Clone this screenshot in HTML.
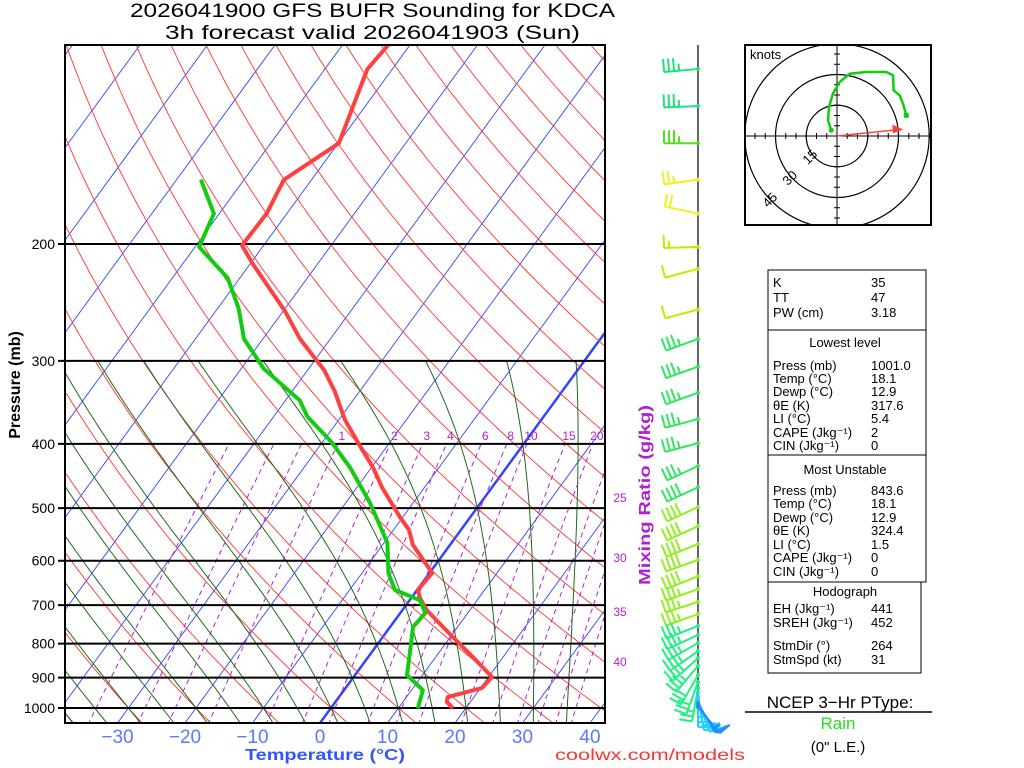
<!DOCTYPE html>
<html><head><meta charset="utf-8"><style>
html,body{margin:0;padding:0;background:#fff;}
svg{display:block;font-family:"Liberation Sans",sans-serif;}
</style></head><body>
<svg id="c" width="1024" height="768" viewBox="0 0 1024 768">
<defs><clipPath id="plotClip"><rect x="65" y="45" width="540" height="678"/></clipPath>
<clipPath id="hodoClip"><rect x="745" y="45" width="186" height="180"/></clipPath></defs>
<g id="bg" clip-path="url(#plotClip)"></g>
<g id="isobars"></g>
<g id="profiles" clip-path="url(#plotClip)"></g>
<rect x="65" y="45" width="540" height="678" fill="none" stroke="#000" stroke-width="2"/>
<g id="labels"></g>
<g id="barbs"></g>
<g id="hodo"></g>
<text x="130" y="17" font-size="19" textLength="485" lengthAdjust="spacingAndGlyphs">2026041900 GFS BUFR Sounding for KDCA</text>
<text x="165" y="39" font-size="19" textLength="415" lengthAdjust="spacingAndGlyphs">3h forecast valid 2026041903 (Sun)</text>
<text x="20" y="385" font-size="16" font-weight="bold" text-anchor="middle" transform="rotate(-90 20 385)">Pressure (mb)</text>
<text x="245" y="760" font-size="16" font-weight="bold" fill="#3355ff" textLength="160" lengthAdjust="spacingAndGlyphs">Temperature (°C)</text>
<text x="555" y="760" font-size="16" fill="#ff3333" textLength="190" lengthAdjust="spacingAndGlyphs">coolwx.com/models</text>
<text x="405" y="650" font-size="16" font-weight="bold" fill="#b020d0" textLength="180" lengthAdjust="spacingAndGlyphs" transform="rotate(-90 650 495) translate(155 -155)">Mixing Ratio (g/kg)</text>
<g font-size="13">
<rect x="768" y="270" width="158" height="60" fill="none" stroke="#000"/>
<rect x="768" y="330" width="158" height="125" fill="none" stroke="#000"/>
<rect x="768" y="455" width="158" height="127" fill="none" stroke="#000"/>
<rect x="768" y="582" width="153" height="91" fill="none" stroke="#000"/>
<g id="panelText"></g>
</g>
<text x="840" y="708" font-size="17" text-anchor="middle">NCEP 3−Hr PType:</text>
<line x1="745" y1="712" x2="932" y2="712" stroke="#000" stroke-width="1.5"/>
<text x="838" y="729" font-size="17" fill="#22dd22" text-anchor="middle">Rain</text>
<text x="838" y="752" font-size="15" text-anchor="middle">(0" L.E.)</text>
</svg>
<script>
// ---- data ----
const tempP = [100,109,141,160,180,201,214,253,278,310,334,368,404,434,466,516,539,568,626,664,683,712,782,838,898,933,963,979,1001];
const tempT = [-63.2,-63.7,-59.9,-64.1,-63.0,-63.2,-59.7,-49.6,-44.5,-37.5,-33.6,-29.1,-23.9,-19.8,-16.2,-10.4,-7.7,-5.5,0.4,0.1,1.3,3.6,10.4,15.5,20.5,20.2,16.1,16.5,18.1];
const dewP = [160,180,202,225,250,278,308,344,364,398,434,491,564,626,664,688,719,755,800,892,940,1001];
const dewT = [-76.4,-70.8,-69.4,-61.8,-56.9,-52.8,-46.7,-37.9,-35.0,-28.6,-23.2,-16.4,-9.5,-6.1,-3.3,1.5,3.7,3.4,4.9,7.7,11.7,12.9];
const isobarLevels = [200,300,400,500,600,700,800,900,1000];
const tempTicks = [-30,-20,-10,0,10,20,30,40];
const mixLabeled = [1,2,3,4,6,8,10,15,20];
const mixUnlabeled = [0.2,0.4,0.6];
const mixRight = [25,30,35,40];
const mixRightLabelP = [481,592,714,849];
const moistStarts = [-40,-35,-30,-25,-20,-15,-10,-5,0,5,10,15,20,25,30,35];
const windP = [109,124,141,160,180,202,218,251,278,306,335,367,399,432,465,498,532,566,598,633,662,692,722,752,776,798,821,841,864,892,914,933,949,962,973,983,990,997];
const windDir = [265,268,270,262,282,268,255,255,250,250,250,255,255,245,245,245,245,248,250,248,250,252,250,248,245,240,235,228,220,210,200,190,180,170,160,150,145,140];
const windSpd = [35,35,35,25,20,15,10,10,35,35,35,35,35,35,40,40,40,40,40,40,35,35,35,35,35,35,35,35,35,30,30,25,25,20,20,15,15,10];
const hodoU = [-2.8,-4.4,-3.9,-2.0,1.3,6.2,14.3,24.1,27.3,27.6,30.6,32.2,33.8];
const hodoV = [2.8,7.6,14.1,20.7,26.3,30.4,31.2,31.2,29.6,22.3,19.8,15.8,10.1];
const stormU = 30.8, stormV = 3.2;
const panelLabels = ["K","TT","PW (cm)","Press (mb)","Temp (°C)","Dewp (°C)","θE (K)","LI (°C)","CAPE (Jkg⁻¹)","CIN (Jkg⁻¹)","Press (mb)","Temp (°C)","Dewp (°C)","θE (K)","LI (°C)","CAPE (Jkg⁻¹)","CIN (Jkg⁻¹)","EH (Jkg⁻¹)","SREH (Jkg⁻¹)","StmDir (°)","StmSpd (kt)"];
const panelValues = ["35","47","3.18","1001.0","18.1","12.9","317.6","5.4","2","0","843.6","18.1","12.9","324.4","1.5","0","0","441","452","264","31"];

// ---- axes ----
const NS="http://www.w3.org/2000/svg";
function yP(p){return 708-288.3*Math.log(1000/p);}
function xT(T,p){return 320+6.75*T+0.73*(723-yP(p));}
function mk(tag,attrs,parent){const e=document.createElementNS(NS,tag);for(const k in attrs)e.setAttribute(k,attrs[k]);parent.appendChild(e);return e;}
const bg=document.getElementById('bg');
function poly(pts,style,parent){return mk('polyline',Object.assign({points:pts.map(q=>q[0].toFixed(1)+','+q[1].toFixed(1)).join(' '),fill:'none'},style),parent);}
const pSteps=[];for(let p=1060;p>=95;p-=5)pSteps.push(p);

for(let T=-170;T<=50;T+=10){
  const l=mk('line',{x1:xT(T,1060),y1:yP(1060),x2:xT(T,95),y2:yP(95),stroke:'#3344ff','stroke-width':T===0?2.5:0.9},bg);
  
  
}
for(let th=-40;th<=260;th+=10){
  const pts=pSteps.map(p=>{const T=(th+273.15)*Math.pow(p/1000,0.286)-273.15;return [xT(T,p),yP(p)];});
  const l=poly(pts,{stroke:'#ff3333','stroke-width':0.9},bg);
  
  
}
function es(T){return 6.112*Math.exp(17.67*T/(T+243.5));}
function dTdp(T,p){const Tk=T+273.15,e=es(T),rs=0.622*e/(p-e),Lv=2.5e6,Rd=287,cp=1004;
  return (Rd*Tk+Lv*rs)/(p*(cp+Lv*Lv*rs*0.622/(Rd*Tk*Tk)));}
moistStarts.forEach(T0=>{
  const pts=[];let T=T0;
  let Tb=T0;for(let p=1000;p<1060;p+=5){Tb+=dTdp(Tb,p)*5;}
  pts.push([xT(Tb,1060),yP(1060)]);
  for(let p=1000;p>=300;p-=5){pts.push([xT(T,p),yP(p)]);T-=dTdp(T,p)*5;}
  const l=poly(pts,{stroke:'#1d6b1d','stroke-width':1},bg);
  
  
});
function tdW(w,p){const e=w*p/(622+w);const a=Math.log(e/6.112);return 243.5*a/(17.67-a);}
mixUnlabeled.concat(mixLabeled,mixRight).forEach(w=>{
  const pts=[];for(let p=1060;p>=400;p-=10)pts.push([xT(tdW(w,p),p),yP(p)]);
  const l=poly(pts,{stroke:'#b020d0','stroke-width':1,'stroke-dasharray':'5,4'},bg);
  
  
});
const lab=document.getElementById('labels');
mixLabeled.forEach(w=>{
  const t=mk('text',{x:xT(tdW(w,400),400)+4,y:440,'font-size':12,fill:'#b020d0','text-anchor':'middle'},lab);
  t.textContent=String(w);
  
  
});
mixRight.forEach((w,i)=>{
  const t=mk('text',{x:620,y:yP(mixRightLabelP[i])+5,'font-size':12,fill:'#b020d0','text-anchor':'middle'},lab);
  t.textContent=String(w);
  
  
});
const iso=document.getElementById('isobars');
isobarLevels.forEach(p=>{
  const l=mk('line',{x1:58,y1:yP(p),x2:605,y2:yP(p),stroke:'#000','stroke-width':2},iso);
  
  
  const t=mk('text',{x:55,y:yP(p)+5,'font-size':14,'text-anchor':'end'},lab);
  t.textContent=String(p);
  
  
});
tempTicks.forEach(T=>{
  const t=mk('text',{x:320+6.75*T,y:743,'font-size':19,fill:'#5a78ff','text-anchor':'middle'},lab);
  t.textContent=(T<0?'−':'')+Math.abs(T);
  
  
});
const prof=document.getElementById('profiles');
const tl=poly(tempP.map((p,i)=>[xT(tempT[i],p),yP(p)]),{stroke:'#ff4040','stroke-width':4,'stroke-linejoin':'round'},prof);


const dl=poly(dewP.map((p,i)=>[xT(dewT[i],p),yP(p)]),{stroke:'#11cc11','stroke-width':4,'stroke-linejoin':'round'},prof);


// wind barbs
const bb=document.getElementById('barbs');
const st=mk('line',{x1:698,y1:45,x2:698,y2:700,stroke:'#666','stroke-width':2},bb);


function barbColor(i,n){
  const f=i/(n-1);
  if(f<0.03)return '#20e080';if(f<0.06)return '#50e020';if(f<0.08)return '#ffd000';if(f<0.13)return '#f0f020';
  if(f<0.21)return '#b8f000';if(f<0.4)return '#30e860';if(f<0.62)return '#90f020';if(f<0.86)return '#20f080';
  if(f<0.92)return '#20d0ff';return '#2090ff';}
windP.forEach((p,i)=>{
  const y=yP(p),x=698,L=34,d=windDir[i]*Math.PI/180;
  const dx=Math.sin(d),dy=-Math.cos(d);
  const col=barbColor(i,windP.length);
  const g=mk('g',{stroke:col,'stroke-width':2,fill:col},bb);
  
  
  const tx=x+dx*L,ty=y+dy*L;
  mk('line',{x1:x,y1:y,x2:tx,y2:ty},g);
  // feather direction: perpendicular to staff, on upward side
  let fx=-dy,fy=dx; if(fy>0){fx=-fx;fy=-fy;}
  let s=windSpd[i],k=0;
  while(s>=10){const bx=tx-dx*k*5,by=ty-dy*k*5;mk('line',{x1:bx,y1:by,x2:bx+fx*13,y2:by+fy*13},g);s-=10;k++;}
  if(s>=5){if(k===0)k=1;const bx=tx-dx*k*5,by=ty-dy*k*5;mk('line',{x1:bx,y1:by,x2:bx+fx*7,y2:by+fy*7},g);}
  mk('circle',{cx:x,cy:y,r:2,stroke:'none'},g);
});
// hodograph
const hg=document.getElementById('hodo');
const cx=837,cy=136,k=2.05;
mk('rect',{x:745,y:45,width:186,height:180,fill:'#fff',stroke:'#000','stroke-width':2},hg);
const hc=mk('g',{'clip-path':'url(#hodoClip)'},hg);
[15,30,45].forEach(r=>{const c=mk('circle',{cx:cx,cy:cy,r:r*k,fill:'none',stroke:'#000','stroke-width':1.2},hc);
  });
mk('line',{x1:745,y1:cy,x2:931,y2:cy,stroke:'#000'},hc);
mk('line',{x1:cx,y1:45,x2:cx,y2:225,stroke:'#000'},hc);
for(let v=-45;v<=45;v+=5){if(v===0)continue;
  mk('line',{x1:cx+v*k,y1:cy-3,x2:cx+v*k,y2:cy+3,stroke:'#000'},hc);
  mk('line',{x1:cx-3,y1:cy+v*k,x2:cx+3,y2:cy+v*k,stroke:'#000'},hc);}
[[15,813,160],[30,793,181],[45,773,203]].forEach(a=>{const t=mk('text',{x:a[1],y:a[2],'font-size':13,transform:`rotate(-45 ${a[1]} ${a[2]})`,'text-anchor':'middle'},hg);t.textContent=String(a[0]);
  });
const kt=mk('text',{x:750,y:59,'font-size':13},hg);kt.textContent='knots';

const hp=poly(hodoU.map((u,i)=>[cx+u*k,cy-hodoV[i]*k]),{stroke:'#11cc11','stroke-width':2.5},hg);

mk('circle',{cx:cx+hodoU[0]*k,cy:cy-hodoV[0]*k,r:2.5,fill:'#11cc11'},hg);
mk('rect',{x:cx+hodoU[hodoU.length-1]*k-2.5,y:cy-hodoV[hodoV.length-1]*k-2.5,width:5,height:5,fill:'#11cc11'},hg);
const sx2=cx+stormU*k,sy2=cy-stormV*k;
const sa=mk('line',{x1:cx,y1:cy,x2:sx2,y2:sy2,stroke:'#ff4040','stroke-width':1.5},hg);

mk('polygon',{points:`${sx2+3},${sy2} ${sx2-8},${sy2-5} ${sx2-7},${sy2+4}`,fill:'#ff4040'},hg);
// panel text
const pt=document.getElementById('panelText');
const rowY=[287,302,317,370,383,396,410,423,437,450,495,508,522,535,549,562,576,613,627,650,664];
panelLabels.forEach((s,i)=>{
  const a=mk('text',{x:773,y:rowY[i]},pt);a.textContent=s;
  
  const b=mk('text',{x:871,y:rowY[i]},pt);b.textContent=panelValues[i];
  
});
[["Lowest level",347],["Most Unstable",474],["Hodograph",596]].forEach(h=>{
  const t=mk('text',{x:845,y:h[1],'text-anchor':'middle'},pt);t.textContent=h[0];
  });
</script>
</body></html>
